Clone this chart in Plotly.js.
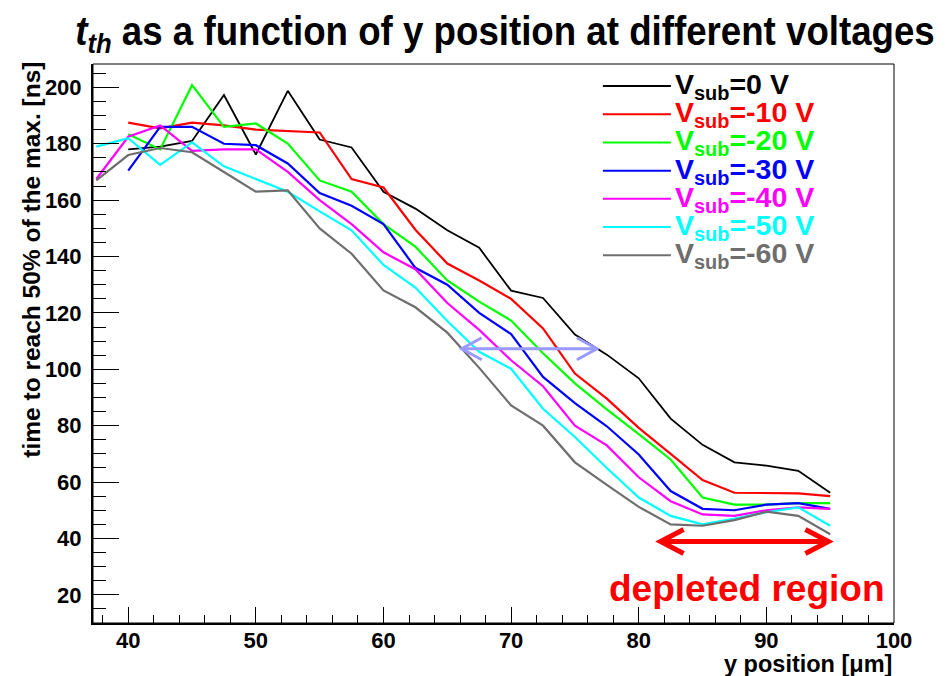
<!DOCTYPE html>
<html>
<head>
<meta charset="utf-8">
<script src="https://cdn.plot.ly/plotly-3.0.1.min.js"></script>
<style>html,body{margin:0;padding:0;background:#fff;}#chart{width:949px;height:676px;}</style>
</head>
<body>
<div id="chart"></div>
<script>
// y position [um]
const yPos = [37.5, 40, 42.5, 45, 47.5, 50, 52.5, 55, 57.5, 60, 62.5, 65, 67.5, 70, 72.5, 75, 77.5, 80, 82.5, 85, 87.5, 90, 92.5, 95];
// t_th [ns] for each substrate voltage
const v0   = [null, 178, 179, 181, 197.3, 176.2, 198.8, 181.5, 178.7, 163, 157, 149.3, 143.1, 127.9, 125.3, 112.3, 105.2, 96.8, 82.5, 73.2, 67, 65.8, 64, 56.2];
const v10  = [null, 187.5, 185.5, 187.5, 186.5, 185, 184.5, 184, 167.5, 164.5, 149.5, 137.5, 131.5, 125, 114.5, 98.5, 89.6, 79.2, 70, 60.7, 56.2, 56, 56, 55];
const v20  = [null, 183.4, 178, 200.8, 186, 187.2, 180.1, 167, 163, 151.5, 143.5, 131.5, 124, 117.3, 105.7, 95, 85.8, 77, 68, 54.5, 52, 52, 52.5, 52.5];
const v30  = [null, 170.5, 186, 186, 180, 179.5, 173, 162.5, 158, 151.5, 136, 130, 120, 112.5, 97.3, 88, 79.8, 69.8, 56.8, 50.5, 50, 52, 52.5, 50.5];
const v40  = [167.5, 182.5, 186.5, 177.5, 178, 178, 170, 160, 151.5, 141.5, 135.5, 123.5, 114, 103.2, 94, 80, 73, 61.7, 53.2, 48.5, 48, 50, 51, 50.5];
const v50  = [179, 182, 172.5, 180.5, 172, 167.5, 163, 156, 149.3, 137, 129, 117.1, 106.2, 100.2, 86, 76, 65, 54.5, 48, 45, 47, 49.3, 51, 44.5];
const v60  = [167, 176, 178.5, 177, 170, 163, 163.5, 150, 141, 128, 122, 113, 100.5, 87.2, 80, 67, 59, 51.2, 45, 44.5, 46.5, 49.5, 48, 41.5];

const seriesValues = [v0, v10, v20, v30, v40, v50, v60];
const voltageLabels = ['0', '-10', '-20', '-30', '-40', '-50', '-60'];
const seriesColors = ['#000000', '#ff0000', '#00ff00', '#0000ff', '#ff00ff', '#00ffff', '#6e6e6e'];

const xTicks = [40, 50, 60, 70, 80, 90, 100];
const yTicks = [20, 40, 60, 80, 100, 120, 140, 160, 180, 200];

// annotation arrows [x start, x end, y]
const shiftArrow = [66.13, 76.72, 107.3];
const depletedArrow = [81.71, 94.86, 38.9];

const FONT = 'Liberation Sans, Arial, Helvetica, sans-serif';

// plot-area geometry (pixels)
const L = 93.3, R = 894, T = 64, B = 622.7;
const XR = [37.24, 100], YR = [10, 208.3];
const px2paperX = p => (p - L) / (R - L);
const py2paperY = p => (B - p) / (B - T);
const pxPerX = (R - L) / (XR[1] - XR[0]);
const pxPerY = (B - T) / (YR[1] - YR[0]);

const traces = seriesValues.map((vals, i) => ({
  x: yPos,
  y: vals,
  type: 'scatter',
  mode: 'lines',
  name: 'V_sub=' + voltageLabels[i] + ' V',
  line: {color: seriesColors[i], width: i === 0 ? 1.8 : 2.2},
  showlegend: false,
  hoverinfo: 'x+y'
}));

const shapes = [
  {type: 'rect', xref: 'paper', yref: 'paper', x0: 0, x1: 1, y0: 0, y1: 1,
   line: {color: '#000', width: 1}, fillcolor: 'rgba(0,0,0,0)', layer: 'above'}
];
const annotations = [];

// legend
const legTextX = px2paperX(673), legLine0 = px2paperX(603), legLine1 = px2paperX(671);
const legY0 = 86, legStep = 28.2;
voltageLabels.forEach((v, i) => {
  const yp = py2paperY(legY0 + i * legStep);
  shapes.push({type: 'line', xref: 'paper', yref: 'paper', x0: legLine0, x1: legLine1, y0: yp, y1: yp,
    line: {color: seriesColors[i], width: 2}});
  annotations.push({xref: 'paper', yref: 'paper', x: legTextX, y: yp, xanchor: 'left', yanchor: 'middle',
    showarrow: false, text: 'V<sub>sub</sub>=' + v + ' V',
    font: {family: FONT, size: 28.5, weight: 'bold', color: seriesColors[i]}});
});

// double arrows with open chevron heads
function dblArrow(a, color, width, armPxX, armPxY) {
  const dx = armPxX / pxPerX, dy = armPxY / pxPerY;
  const [x0, x1, y] = a;
  shapes.push({type: 'line', xref: 'x', yref: 'y', x0: x0, x1: x1, y0: y, y1: y, line: {color, width}});
  shapes.push({type: 'path', xref: 'x', yref: 'y',
    path: `M${x0 + dx},${y + dy} L${x0},${y} L${x0 + dx},${y - dy}`, line: {color, width}});
  shapes.push({type: 'path', xref: 'x', yref: 'y',
    path: `M${x1 - dx},${y + dy} L${x1},${y} L${x1 - dx},${y - dy}`, line: {color, width}});
}
dblArrow(shiftArrow, '#9999ff', 3, 20, 11);
dblArrow(depletedArrow, '#ff0000', 5, 23, 12);

annotations.push({xref: 'paper', yref: 'paper', x: px2paperX(747), y: py2paperY(588),
  xanchor: 'center', yanchor: 'middle', showarrow: false, text: 'depleted region',
  font: {family: FONT, size: 37, weight: 'bold', color: '#ff0000'}});

// axis titles
annotations.push({xref: 'paper', yref: 'paper', x: px2paperX(32), y: py2paperY(60),
  xanchor: 'center', yanchor: 'top', textangle: -90, showarrow: false,
  text: 'time to reach 50% of the max. [ns]',
  font: {family: FONT, size: 24.5, weight: 'bold', color: '#000'}});
annotations.push({xref: 'paper', yref: 'paper', x: 1, y: py2paperY(664),
  xanchor: 'right', yanchor: 'middle', showarrow: false,
  text: 'y position [μm]',
  font: {family: FONT, size: 23.5, weight: 'bold', color: '#000'}});

const tickFont = {family: FONT, size: 22, weight: 'bold', color: '#000'};

const layout = {
  width: 949, height: 676,
  margin: {l: L, r: 949 - R, t: T, b: 676 - B, pad: 0},
  paper_bgcolor: '#fff', plot_bgcolor: '#fff',
  title: {
    text: '<i>t<sub>th</sub></i> as a function of y position at different voltages',
    font: {family: FONT, size: 40, weight: 'bold', color: '#000'},
    x: 505 / 949, xanchor: 'center', xref: 'container',
    y: 1 - 31 / 676, yanchor: 'middle', yref: 'container'
  },
  xaxis: {
    range: XR, tickvals: xTicks, ticktext: xTicks.map(String),
    ticks: 'inside', ticklen: 16, tickwidth: 1, tickcolor: '#000',
    minor: {dtick: 2, tick0: 0, ticks: 'inside', ticklen: 8, tickwidth: 1, tickcolor: '#000'},
    showline: true, linewidth: 2, linecolor: '#000', mirror: false,
    showgrid: false, zeroline: false, tickfont: tickFont, ticklabelstandoff: -3
  },
  yaxis: {
    range: YR, tickvals: yTicks, ticktext: yTicks.map(String),
    ticks: 'inside', ticklen: 26, tickwidth: 1, tickcolor: '#000',
    minor: {dtick: 5, tick0: 0, ticks: 'inside', ticklen: 13, tickwidth: 1, tickcolor: '#000'},
    showline: true, linewidth: 2, linecolor: '#000', mirror: false,
    showgrid: false, zeroline: false, tickfont: tickFont, ticklabelstandoff: 5
  },
  shapes: shapes,
  annotations: annotations
};

Plotly.newPlot('chart', traces, layout, {displayModeBar: false, staticPlot: true}).then(gd => {
  // the reference title is drawn with a condensed face: squeeze it horizontally to its width
  const t = gd.querySelector('.gtitle');
  if (t) {
    const bb = t.getBBox();
    const targetW = 860, cx = 505;
    const s = targetW / bb.width;
    const prev = t.getAttribute('transform') || '';
    t.setAttribute('transform',
      `translate(${cx},0) scale(${s},1) translate(${-(bb.x + bb.width / 2)},0) ${prev}`);
  }
});
</script>
</body>
</html>
